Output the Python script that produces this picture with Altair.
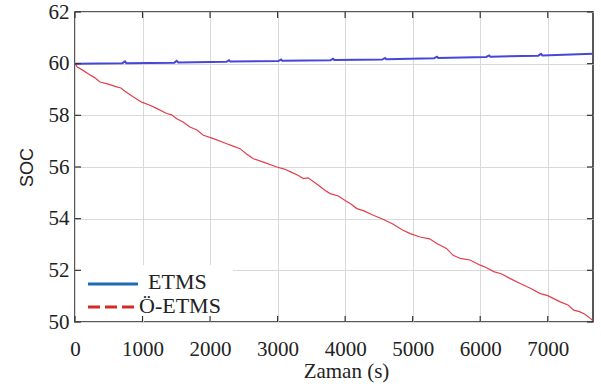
import altair as alt
import pandas as pd

# SOC over time for the two energy management strategies
etms_t = [0, 700, 741, 760, 1470, 1506, 1530, 2240, 2281, 2300, 3010, 3051, 3070,
          3780, 3821, 3840, 4550, 4591, 4610, 5320, 5361, 5380, 6090, 6131, 6150,
          6860, 6901, 6920, 7670]
etms_soc = [60.0, 60.02, 60.09, 60.02, 60.04, 60.11, 60.05, 60.07, 60.13, 60.08,
            60.10, 60.16, 60.11, 60.13, 60.19, 60.14, 60.16, 60.22, 60.17, 60.21,
            60.27, 60.22, 60.26, 60.32, 60.27, 60.31, 60.38, 60.32, 60.38]

oetms_t = [0, 34, 120, 200, 290, 370, 480, 617, 680, 740, 860, 988, 1100, 1200, 1358,
           1430, 1506, 1600, 1700, 1800, 1901, 2050, 2247, 2330, 2444, 2540, 2641,
           2800, 2988, 3100, 3200, 3300, 3382, 3450, 3600, 3700, 3778, 3900, 4000,
           4090, 4173, 4280, 4400, 4567, 4700, 4850, 4963, 5111, 5250, 5358, 5500,
           5600, 5704, 5850, 6000, 6080, 6200, 6320, 6444, 6600, 6750, 6889, 7000,
           7185, 7300, 7383, 7470, 7550, 7630, 7670]
oetms_soc = [60.0, 59.87, 59.74, 59.6, 59.46, 59.29, 59.22, 59.1, 59.06, 58.93, 58.72,
             58.51, 58.40, 58.28, 58.07, 58.02, 57.87, 57.74, 57.55, 57.44, 57.23,
             57.10, 56.9, 56.82, 56.71, 56.50, 56.32, 56.18, 56.0, 55.92, 55.80,
             55.68, 55.55, 55.58, 55.30, 55.10, 54.97, 54.88, 54.70, 54.56, 54.39,
             54.30, 54.15, 53.97, 53.80, 53.56, 53.42, 53.29, 53.22, 53.04, 52.85,
             52.58, 52.46, 52.40, 52.20, 52.12, 51.95, 51.86, 51.68, 51.48, 51.30,
             51.10, 51.02, 50.78, 50.66, 50.46, 50.40, 50.30, 50.14, 50.05]

x_ticks = [0, 1000, 2000, 3000, 4000, 5000, 6000, 7000]
y_ticks = [50, 52, 54, 56, 58, 60, 62]
legend_labels = ["ETMS", "Ö-ETMS"]

X_MAX = 7670
W, H = 518, 310
SERIF = "Liberation Serif"
SANS = "Liberation Sans"

etms = pd.DataFrame({"t": etms_t, "soc": etms_soc})
oetms = pd.DataFrame({"t": oetms_t, "soc": oetms_soc})

xs = alt.Scale(domain=[0, X_MAX], nice=False, zero=False)
ys = alt.Scale(domain=[50, 62], nice=False, zero=False)

x_axis = alt.Axis(values=x_ticks, format="d", grid=True, gridColor="#d9d9d9",
                  gridWidth=1, domain=False, ticks=False, labelFontSize=21,
                  labelFont=SERIF, labelColor="#222", labelPadding=16,
                  title="Zaman (s)", titleFont=SERIF, titleFontSize=21,
                  titleFontWeight="normal", titleColor="#222", titlePadding=1,
                  titleX=W / 2 + 12, labelFlush=False)
y_axis = alt.Axis(values=y_ticks, format="d", grid=True, gridColor="#d9d9d9",
                  gridWidth=1, domain=False, ticks=False, labelFontSize=21,
                  labelFont=SERIF, labelColor="#222", labelPadding=6, title="SOC",
                  titleFont=SANS, titleFontSize=18, titleFontWeight="normal",
                  titleColor="#222", titlePadding=12, labelFlush=False)

red_line = alt.Chart(oetms).mark_line(color="#e23e4a", strokeWidth=1.2).encode(
    x=alt.X("t:Q", scale=xs, axis=x_axis),
    y=alt.Y("soc:Q", scale=ys, axis=y_axis),
)
blue_line = alt.Chart(etms).mark_line(color="#4646d8", strokeWidth=2).encode(
    x=alt.X("t:Q", scale=xs),
    y=alt.Y("soc:Q", scale=ys),
)

# inward tick marks on all four sides
xt = pd.DataFrame({"v": x_ticks})
yt = pd.DataFrame({"v": y_ticks})
tick_style = dict(color="#333", strokeWidth=1.2)
ticks_bottom = alt.Chart(xt).mark_rule(**tick_style).encode(
    x=alt.X("v:Q", scale=xs), y=alt.value(H), y2=alt.value(H - 6))
ticks_top = alt.Chart(xt).mark_rule(**tick_style).encode(
    x=alt.X("v:Q", scale=xs), y=alt.value(0), y2=alt.value(6))
ticks_left = alt.Chart(yt).mark_rule(**tick_style).encode(
    y=alt.Y("v:Q", scale=ys), x=alt.value(0), x2=alt.value(6))
ticks_right = alt.Chart(yt).mark_rule(**tick_style).encode(
    y=alt.Y("v:Q", scale=ys), x=alt.value(W), x2=alt.value(W - 6))

# legend box in the lower-left corner
leg_bg = alt.Chart(pd.DataFrame({"a": [0]})).mark_rect(color="white").encode(
    x=alt.value(1), x2=alt.value(158), y=alt.value(253), y2=alt.value(H - 1))
leg_etms = alt.Chart(pd.DataFrame({"a": [0]})).mark_rule(
    color="#1f6cb5", strokeWidth=2.8).encode(
    x=alt.value(13), x2=alt.value(63), y=alt.value(272))
leg_oetms = alt.Chart(pd.DataFrame({"a": [0]})).mark_rule(
    color="#d42a2a", strokeWidth=2.8, strokeDash=[12, 5]).encode(
    x=alt.value(13), x2=alt.value(62), y=alt.value(295))
leg_text = alt.Chart(pd.DataFrame({"label": legend_labels, "y": [270, 294],
                                   "x": [73, 64]})).mark_text(
    font=SERIF, fontSize=22, color="#222", align="left", baseline="middle").encode(
    x=alt.X("x:Q", scale=None), y=alt.Y("y:Q", scale=None), text="label:N")

chart = alt.layer(
    red_line, blue_line, leg_bg, leg_etms, leg_oetms, leg_text,
    ticks_bottom, ticks_top, ticks_left, ticks_right,
).properties(
    width=W, height=H,
    autosize=alt.AutoSizeParams(type="none"),
    padding={"left": 75, "top": 12, "right": 8, "bottom": 68},
    background="white",
).configure_view(stroke="#222", strokeWidth=1.5)

chart.save("out.html", embed_options={"renderer": "svg", "actions": False})
